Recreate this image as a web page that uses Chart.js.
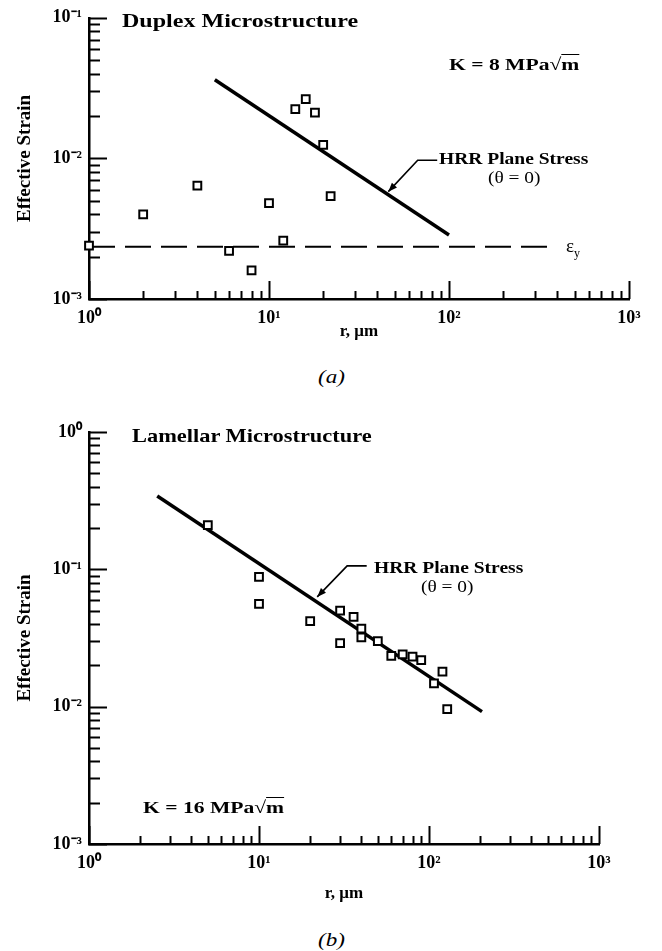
<!DOCTYPE html>
<html>
<head>
<meta charset="utf-8">
<script src="https://cdn.jsdelivr.net/npm/chart.js@4.4.1/dist/chart.umd.min.js"></script>
<style>
  body { margin: 0; background: #fff; }
  #page { position: relative; width: 662px; height: 951px; overflow: hidden; background: #fff; }
  canvas { position: absolute; left: 0; }
  #chart-a { top: 0; }
  #chart-b { top: 410px; }
  .lbl {
    position: absolute;
    font-family: "Liberation Serif", "Times New Roman", serif;
    line-height: 1;
    white-space: nowrap;
    color: #000;
    transform-origin: left top;
  }
  .b { font-weight: bold; }
  .rt { text-decoration: overline; }
</style>
</head>
<body>
<div id="page">
  <canvas id="chart-a" width="662" height="350"></canvas>
  <canvas id="chart-b" width="662" height="500"></canvas>

  <div class="lbl b" style="left:122px; top:11px; font-size:19px; transform:scaleX(1.265)">Duplex Microstructure</div>
  <div class="lbl b" style="left:449px; top:56px; font-size:17px; transform:scaleX(1.27)">K = 8 MPa√<span class="rt">m</span></div>
  <div class="lbl b" style="left:439px; top:151px; font-size:16px; transform:scaleX(1.22)">HRR Plane Stress</div>
  <div class="lbl" style="left:488px; top:170px; font-size:16px; transform:scaleX(1.21)">(θ = 0)</div>
  <div class="lbl" style="left:566px; top:236px; font-size:19px">ε<sub style="font-size:12px">y</sub></div>
  <div class="lbl" style="left:318px; top:368px; font-size:18px; font-style:italic; transform:scaleX(1.28)">(a)</div>

  <div class="lbl b" style="left:132px; top:426px; font-size:19px; transform:scaleX(1.18)">Lamellar Microstructure</div>
  <div class="lbl b" style="left:374px; top:560px; font-size:16px; transform:scaleX(1.22)">HRR Plane Stress</div>
  <div class="lbl" style="left:421px; top:579px; font-size:16px; transform:scaleX(1.21)">(θ = 0)</div>
  <div class="lbl b" style="left:143px; top:799px; font-size:17px; transform:scaleX(1.27)">K = 16 MPa√<span class="rt">m</span></div>
  <div class="lbl" style="left:318px; top:931px; font-size:18px; font-style:italic; transform:scaleX(1.28)">(b)</div>
</div>

<script>
// ---- data ----
const xTicks = [1, 10, 100, 1000];
const xTickLabels = ['10⁰', '10¹', '10²', '10³'];

// (a) Duplex, K = 8 MPa√m
const yTicksDuplex = [0.001, 0.01, 0.1];
const yTickLabelsDuplex = ['10⁻³', '10⁻²', '10⁻¹'];
const rDuplex = [1, 2, 4, 6, 8, 10, 12, 14, 16, 18, 20, 22];
const strainDuplex = [0.0024, 0.0040, 0.0064, 0.0022, 0.0016, 0.0048, 0.0026, 0.0224, 0.0264, 0.0212, 0.0125, 0.0054];
const hrrDuplexR = [5, 100];
const hrrDuplexStrain = [0.0363, 0.00285];
const yieldR = [1, 390];
const yieldStrain = [0.00235, 0.00235];
const arrowDuplexR = [86, 67, 46];
const arrowDuplexStrain = [0.0097, 0.0097, 0.0058];

// (b) Lamellar, K = 16 MPa√m
const yTicksLamellar = [0.001, 0.01, 0.1, 1];
const yTickLabelsLamellar = ['10⁻³', '10⁻²', '10⁻¹', '10⁰'];
const rLamellar = [5, 10, 10, 20, 30, 30, 36, 40, 40, 50, 60, 70, 80, 90, 107, 120, 128];
const strainLamellar = [0.21, 0.088, 0.056, 0.042, 0.050, 0.029, 0.045, 0.037, 0.032, 0.030, 0.0234, 0.024, 0.0231, 0.0218, 0.0148, 0.018, 0.0096];
const hrrLamellarR = [2.52, 205];
const hrrLamellarStrain = [0.342, 0.0092];
const arrowLamellarR = [43, 33, 22];
const arrowLamellarStrain = [0.106, 0.106, 0.063];

const serif = '"Liberation Serif", "Times New Roman", serif';
const toXY = (xs, ys) => xs.map((x, i) => ({ x: x, y: ys[i] }));

// tick marks drawn inside the plot, like the printed figure
const inwardTicks = {
    id: 'inwardTicks',
    beforeDatasetsDraw(chart, args, opts) {
        const { ctx, chartArea } = chart;
        ctx.save();
        ctx.strokeStyle = '#000';
        ctx.lineWidth = 2;
        ['x', 'y'].forEach(id => {
            const s = chart.scales[id];
            const lo = Math.round(Math.log10(s.min));
            const hi = Math.round(Math.log10(s.max));
            for (let d = lo; d <= hi; d++) {
                for (let k = 1; k <= 9; k++) {
                    const v = k * Math.pow(10, d);
                    if (v < s.min * 0.999 || v > s.max * 1.001) continue;
                    const p = Math.round(s.getPixelForValue(v)) + 0.5;
                    ctx.beginPath();
                    if (id === 'x') {
                        const len = k === 1 ? opts.majorX : opts.minorX;
                        ctx.moveTo(p, chartArea.bottom);
                        ctx.lineTo(p, chartArea.bottom - len);
                    } else {
                        const len = k === 1 ? opts.majorY : opts.minorY;
                        ctx.moveTo(chartArea.left, p);
                        ctx.lineTo(chartArea.left + len, p);
                    }
                    ctx.stroke();
                }
            }
        });
        ctx.restore();
    }
};

// leader line with arrow head pointing at the HRR curve
const leader = {
    id: 'leader',
    afterDatasetsDraw(chart, args, opts) {
        if (!opts.xs) return;
        const { ctx } = chart;
        const px = opts.xs.map(v => chart.scales.x.getPixelForValue(v));
        const py = opts.ys.map(v => chart.scales.y.getPixelForValue(v));
        ctx.save();
        ctx.strokeStyle = '#000';
        ctx.fillStyle = '#000';
        ctx.lineWidth = 1.6;
        ctx.beginPath();
        ctx.moveTo(px[0], py[0]);
        for (let i = 1; i < px.length; i++) ctx.lineTo(px[i], py[i]);
        ctx.stroke();
        const n = px.length - 1;
        const a = Math.atan2(py[n] - py[n - 1], px[n] - px[n - 1]);
        const L = 9, W = 3.5;
        ctx.beginPath();
        ctx.moveTo(px[n], py[n]);
        ctx.lineTo(px[n] - L * Math.cos(a) + W * Math.sin(a), py[n] - L * Math.sin(a) - W * Math.cos(a));
        ctx.lineTo(px[n] - L * Math.cos(a) - W * Math.sin(a), py[n] - L * Math.sin(a) + W * Math.cos(a));
        ctx.closePath();
        ctx.fill();
        ctx.restore();
    }
};

Chart.register(inwardTicks, leader);

function makeChart(id, opt) {
    const datasets = [
        {
            data: opt.points,
            pointStyle: 'rect',
            pointRadius: 5.5,
            pointBorderWidth: 2,
            pointBorderColor: '#000',
            pointBackgroundColor: '#fff',
            showLine: false,
            clip: false
        },
        {
            data: opt.curve,
            showLine: true,
            borderColor: '#000',
            borderWidth: 3.5,
            pointRadius: 0
        }
    ];
    if (opt.dashed) {
        datasets.push({
            data: opt.dashed,
            showLine: true,
            borderColor: '#000',
            borderWidth: 2,
            borderDash: [26, 10],
            pointRadius: 0
        });
    }

    return new Chart(document.getElementById(id), {
        type: 'scatter',
        data: { datasets: datasets },
        options: {
            responsive: false,
            animation: false,
            devicePixelRatio: 1,
            layout: { padding: opt.padding },
            plugins: {
                legend: { display: false },
                tooltip: { enabled: false },
                inwardTicks: { majorX: 18, minorX: 8, majorY: 18, minorY: 11 },
                leader: { xs: opt.arrowX, ys: opt.arrowY }
            },
            scales: {
                x: {
                    type: 'logarithmic',
                    min: 1,
                    max: 1000,
                    afterFit: s => { s.height = opt.xAxisHeight; },
                    afterBuildTicks: s => { s.ticks = xTicks.map(v => ({ value: v })); },
                    grid: { display: true, drawOnChartArea: false, drawTicks: false },
                    border: { display: true, color: '#000', width: 2.5 },
                    ticks: {
                        autoSkip: false,
                        maxRotation: 0,
                        padding: 9,
                        color: '#000',
                        font: { family: serif, size: 18, weight: 'bold' },
                        callback: (v, i) => xTickLabels[i]
                    },
                    title: {
                        display: true,
                        text: 'r, μm',
                        color: '#000',
                        padding: 0,
                        font: { family: serif, size: 17, weight: 'bold' }
                    }
                },
                y: {
                    type: 'logarithmic',
                    min: opt.yTicks[0],
                    max: opt.yTicks[opt.yTicks.length - 1],
                    afterFit: s => { s.width = 75; },
                    afterBuildTicks: s => { s.ticks = opt.yTicks.map(v => ({ value: v })); },
                    grid: { display: true, drawOnChartArea: false, drawTicks: false },
                    border: { display: true, color: '#000', width: 2.5 },
                    ticks: {
                        autoSkip: false,
                        padding: 7,
                        color: '#000',
                        font: { family: serif, size: 18, weight: 'bold' },
                        callback: (v, i) => opt.yLabels[i]
                    },
                    title: {
                        display: true,
                        text: 'Effective Strain',
                        color: '#000',
                        padding: 0,
                        font: { family: serif, size: 19, weight: 'bold' }
                    }
                }
            }
        }
    });
}

makeChart('chart-a', {
    points: toXY(rDuplex, strainDuplex),
    curve: toXY(hrrDuplexR, hrrDuplexStrain),
    dashed: toXY(yieldR, yieldStrain),
    arrowX: arrowDuplexR,
    arrowY: arrowDuplexStrain,
    yTicks: yTicksDuplex,
    yLabels: yTickLabelsDuplex,
    padding: { top: 13, left: 14, right: 33, bottom: 8 },
    xAxisHeight: 43
});

makeChart('chart-b', {
    points: toXY(rLamellar, strainLamellar),
    curve: toXY(hrrLamellarR, hrrLamellarStrain),
    arrowX: arrowLamellarR,
    arrowY: arrowLamellarStrain,
    yTicks: yTicksLamellar,
    yLabels: yTickLabelsLamellar,
    padding: { top: 22, left: 14, right: 63, bottom: 6 },
    xAxisHeight: 60
});
</script>
</body>
</html>
